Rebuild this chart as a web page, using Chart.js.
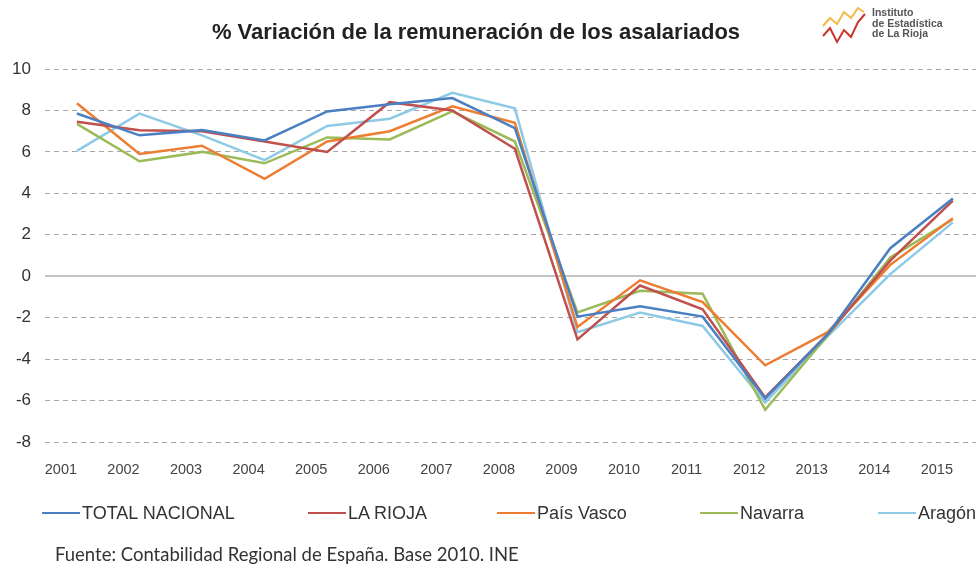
<!DOCTYPE html>
<html>
<head>
<meta charset="utf-8">
<script src="https://cdn.jsdelivr.net/npm/chart.js@4"></script>
<style>
  html, body { margin: 0; padding: 0; background: #fff; overflow: hidden; }
  #wrap { position: relative; width: 980px; height: 565px; font-family: "Liberation Sans", Arial, sans-serif; }
  #chart { position: absolute; left: 0; top: 0; }
  #title { position: absolute; left: 0; width: 952px; top: 19px; text-align: center; font-weight: bold; font-size: 22px; color: #222; }
  #logo { position: absolute; left: 820px; top: 4px; }
  #logoText { position: absolute; left: 872px; top: 7px; font-weight: bold; font-size: 10.5px; line-height: 10.5px; color: #555; }
  .leg { position: absolute; top: 502px; height: 22px; font-size: 18px; color: #333; white-space: nowrap; display: flex; align-items: center; }
  .leg span.line { display: inline-block; width: 38px; height: 2.5px; margin-right: 2px; }
  #source { position: absolute; left: 55px; top: 543px; font-family: Lato, "Open Sans", sans-serif; font-size: 18.5px; color: #333; }
</style>
</head>
<body>
<div id="wrap">
  <canvas id="chart" width="980" height="565"></canvas>
  <div id="title">% Variación de la remuneración de los asalariados</div>
  <svg id="logo" width="50" height="45">
    <polyline points="3,22 10,14 17,20 24,8 31,14 38,4 44,8" fill="none" stroke="#f5b94a" stroke-width="2"/>
    <polyline points="3,32 10,24 17,38 24,26 31,33 38,18 45,10" fill="none" stroke="#c8342c" stroke-width="2"/>
  </svg>
  <div id="logoText">Instituto<br>de Estadística<br>de La Rioja</div>
  <div id="legend"></div>
  <div id="source">Fuente: Contabilidad Regional de España. Base 2010. INE</div>
</div>
<script>
const years = [2001, 2002, 2003, 2004, 2005, 2006, 2007, 2008, 2009, 2010, 2011, 2012, 2013, 2014, 2015];
const yTicks = [10, 8, 6, 4, 2, 0, -2, -4, -6, -8];

const seriesNames = ["TOTAL NACIONAL", "LA RIOJA", "País Vasco", "Navarra", "Aragón"];
const seriesColors = ["#4a7fc1", "#c0504d", "#ed7d31", "#9bbb59", "#8ecae6"];

const totalNacional = [7.85, 6.8, 7.05, 6.55, 7.95, 8.3, 8.6, 7.15, -1.95, -1.45, -1.95, -5.9, -2.8, 1.35, 3.75];
const laRioja = [7.45, 7.05, 7.0, 6.5, 6.0, 8.4, 8.0, 6.15, -3.05, -0.45, -1.6, -5.85, -2.8, 0.75, 3.65];
const paisVasco = [8.35, 5.9, 6.3, 4.7, 6.5, 7.0, 8.2, 7.4, -2.45, -0.2, -1.25, -4.3, -2.7, 0.55, 2.8];
const navarra = [7.35, 5.55, 6.0, 5.45, 6.7, 6.6, 7.95, 6.5, -1.75, -0.7, -0.85, -6.45, -2.85, 0.9, 2.75];
const aragon = [6.05, 7.85, 6.8, 5.6, 7.25, 7.6, 8.85, 8.1, -2.7, -1.75, -2.4, -6.1, -2.9, 0.1, 2.6];

const seriesValues = [totalNacional, laRioja, paisVasco, navarra, aragon];
const legendX = [42, 308, 497, 700, 878];

// legend
const legendEl = document.getElementById("legend");
seriesNames.forEach((name, i) => {
  const d = document.createElement("div");
  d.className = "leg";
  d.style.left = legendX[i] + "px";
  const ln = document.createElement("span");
  ln.className = "line";
  ln.style.background = seriesColors[i];
  d.appendChild(ln);
  d.appendChild(document.createTextNode(name));
  legendEl.appendChild(d);
});

const zeroLine = {
  id: "zeroLine",
  beforeDatasetsDraw(chart) {
    const { ctx, chartArea, scales } = chart;
    const y = Math.round(scales.y.getPixelForValue(0));
    ctx.save();
    ctx.strokeStyle = "#c4c4c4";
    ctx.lineWidth = 2;
    ctx.beginPath();
    ctx.moveTo(chartArea.left, y);
    ctx.lineTo(chartArea.right, y);
    ctx.stroke();
    ctx.restore();
  }
};

new Chart(document.getElementById("chart"), {
  type: "line",
  data: {
    datasets: seriesNames.map((name, i) => ({
      label: name,
      data: years.map((x, j) => ({ x, y: seriesValues[i][j] })),
      borderColor: seriesColors[i],
      backgroundColor: seriesColors[i],
      borderWidth: 2.5,
      pointRadius: 0,
      tension: 0
    }))
  },
  options: {
    responsive: false,
    devicePixelRatio: 1,
    animation: false,
    layout: { padding: { top: 69, left: 0, right: 0, bottom: 78 } },
    plugins: { legend: { display: false }, title: { display: false }, tooltip: { enabled: false } },
    scales: {
      x: {
        type: "linear",
        min: 2000.49,
        max: 2015.37,
        grid: { display: false },
        border: { display: false },
        afterBuildTicks: s => { s.ticks = years.map(v => ({ value: v })); },
        afterFit: s => { s.height = 45; },
        ticks: {
          callback: v => String(v),
          labelOffset: -16,
          padding: 11,
          maxRotation: 0,
          autoSkip: false,
          color: "#444",
          font: { family: "Liberation Sans", size: 14.5 }
        }
      },
      y: {
        min: -8,
        max: 10,
        grid: { color: "#a8a8a8", lineWidth: 1, drawTicks: false },
        border: { display: false, dash: [5, 4] },
        afterBuildTicks: s => { s.ticks = yTicks.map(v => ({ value: v })); },
        afterFit: s => { s.width = 45; },
        ticks: {
          padding: 14,
          color: "#333",
          font: { family: "Liberation Sans", size: 17 }
        }
      }
    }
  },
  plugins: [zeroLine]
});
</script>
</body>
</html>
